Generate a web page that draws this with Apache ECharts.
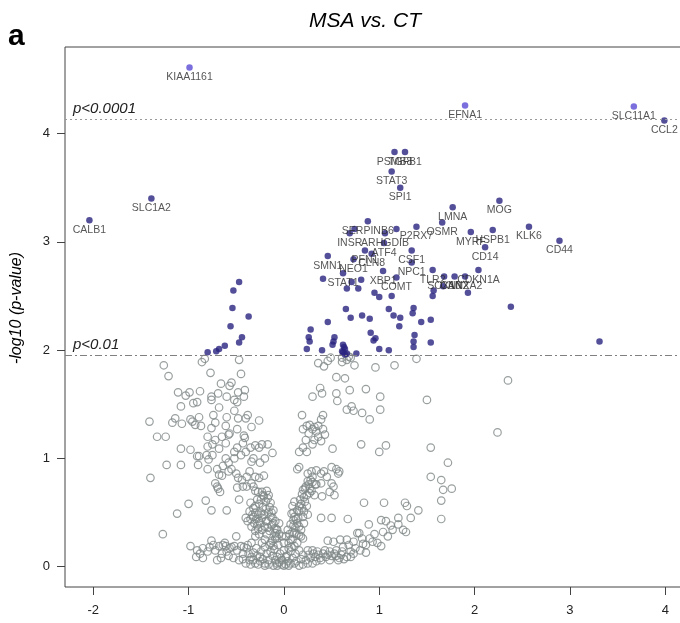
<!DOCTYPE html>
<html>
<head>
<meta charset="utf-8">
<title>MSA vs. CT</title>
<script src="https://cdn.jsdelivr.net/npm/echarts@6/dist/echarts.min.js"></script>
<style>
html, body { margin: 0; padding: 0; background: #fff; }
#chart { width: 680px; height: 623px; }
</style>
</head>
<body>
<div id="chart"></div>
<script>
// axis ticks
const xTicks = [-2, -1, 0, 1, 2, 3, 4]
const yTicks = [0, 1, 2, 3, 4]
// significance cut-offs (-log10 p)
const cutStrict = 4.13
const cutLoose = 1.95

// labelled genes
const geneNames = ['KIAA1161', 'EFNA1', 'SLC11A1', 'CCL2', 'PSMB8', 'TGFB1', 'STAT3', 'SPI1', 'SLC1A2', 'MOG',
  'LMNA', 'CALB1', 'SERPINB6', 'OSMR', 'KLK6', 'P2RX7', 'HSPB1', 'MYRF', 'INSR', 'ARHGDIB',
  'CSF1', 'ATF4', 'CD14', 'PFN1', 'CD44', 'CLN8', 'SMN1', 'NEO1', 'NPC1', 'XBP1',
  'TLR2', 'CDKN1A', 'STAT1', 'COMT', 'SOX10', 'CNN2', 'ANXA2']
const geneFC = [-0.99, 1.90, 3.67, 3.99, 1.16, 1.27, 1.13, 1.22, -1.39, 2.26,
  1.77, -2.04, 0.88, 1.66, 2.57, 1.39, 2.19, 1.96, 0.69, 1.06,
  1.34, 1.05, 2.11, 0.85, 2.89, 0.92, 0.46, 0.73, 1.34, 1.04,
  1.56, 2.04, 0.62, 1.18, 1.68, 1.79, 1.90]
const geneLogP = [4.61, 4.26, 4.25, 4.12, 3.83, 3.83, 3.65, 3.50, 3.40, 3.38,
  3.32, 3.20, 3.19, 3.18, 3.14, 3.14, 3.11, 3.09, 3.08, 3.08,
  2.92, 2.99, 2.95, 2.92, 3.01, 2.89, 2.87, 2.84, 2.81, 2.73,
  2.74, 2.74, 2.71, 2.67, 2.68, 2.68, 2.68]
const brightGenes = ['KIAA1161', 'EFNA1', 'SLC11A1']

// significant, unlabelled [log2FC, -log10 p]
const sigPoints = [
  [0.74, 3.12], [1.18, 3.12], [0.41, 2.66], [0.71, 2.63], [0.66, 2.57], [0.78, 2.57], [0.81, 2.65],
  [0.95, 2.53], [1.00, 2.49], [1.13, 2.50], [1.56, 2.50], [1.57, 2.55], [1.67, 2.59], [1.93, 2.53],
  [2.38, 2.40], [0.65, 2.38], [0.70, 2.30], [0.82, 2.32], [0.90, 2.29], [1.10, 2.38], [1.15, 2.32],
  [1.22, 2.30], [1.36, 2.39], [1.35, 2.34], [1.21, 2.22], [1.54, 2.28], [0.28, 2.19], [0.26, 2.12],
  [0.27, 2.08], [0.53, 2.12], [0.52, 2.08], [0.51, 2.05], [0.62, 2.05], [0.64, 2.01], [0.91, 2.16],
  [0.96, 2.11], [0.94, 2.09], [1.10, 2.00], [1.37, 2.14], [1.36, 2.08], [1.36, 2.03], [1.54, 2.07],
  [0.24, 2.01], [0.40, 2.00], [0.62, 1.98], [0.76, 1.97], [1.00, 2.01], [0.66, 1.97], [0.46, 2.26],
  [1.44, 2.26], [0.63, 2.03], [0.61, 1.99], [0.64, 1.96],
  [-0.47, 2.63], [-0.53, 2.55], [-0.54, 2.39], [-0.37, 2.31], [-0.56, 2.22], [-0.44, 2.12],
  [-0.47, 2.07], [-0.62, 2.04], [-0.68, 2.01], [-0.71, 1.99], [-0.80, 1.98],
  [3.31, 2.08]
]

// not significant [log2FC, -log10 p]
const nsPoints = [
  [-1.26, 1.86], [-0.86, 1.89], [-0.83, 1.92], [-0.47, 1.91], [0.36, 1.88], [0.42, 1.85], [0.46, 1.90],
  [0.49, 1.93], [0.61, 1.89], [0.66, 1.91], [0.70, 1.93], [0.74, 1.86], [0.68, 1.94], [0.61, 1.93],
  [0.96, 1.84], [1.16, 1.86], [1.39, 1.92], [-1.21, 1.76], [-0.77, 1.79], [-0.45, 1.78], [0.55, 1.75],
  [0.64, 1.74], [2.35, 1.72], [-1.11, 1.61], [-0.99, 1.61], [-0.88, 1.62], [-0.66, 1.69], [-0.57, 1.67],
  [-0.55, 1.70], [-0.48, 1.61], [-0.41, 1.63], [0.38, 1.65], [0.40, 1.60], [0.30, 1.57], [0.55, 1.60],
  [0.69, 1.63], [0.86, 1.64], [0.56, 1.53], [1.01, 1.57], [1.50, 1.54], [-1.03, 1.58], [-1.08, 1.48],
  [-0.95, 1.51], [-0.91, 1.52], [-0.76, 1.57], [-0.76, 1.54], [-0.69, 1.60], [-0.60, 1.57], [-0.52, 1.54],
  [-0.42, 1.57], [-0.49, 1.52], [-0.68, 1.47], [-0.52, 1.44], [-0.38, 1.40], [-0.26, 1.35], [-0.40, 1.37],
  [-0.48, 1.37], [-0.60, 1.38], [-0.74, 1.40], [-0.89, 1.38], [-0.93, 1.31], [-0.98, 1.36], [-1.07, 1.32],
  [-1.17, 1.33], [-1.14, 1.37], [-1.41, 1.34], [-1.33, 1.20], [-1.24, 1.20], [-0.96, 1.34], [-0.87, 1.30],
  [-0.76, 1.28], [-0.72, 1.33], [-0.61, 1.30], [-0.57, 1.23], [-0.49, 1.27], [-0.42, 1.21], [-0.34, 1.29],
  [0.19, 1.40], [0.41, 1.40], [0.39, 1.36], [0.71, 1.48], [0.73, 1.44], [0.82, 1.42], [0.90, 1.36],
  [1.01, 1.45], [0.66, 1.45], [0.20, 1.27], [0.24, 1.30], [0.27, 1.31], [0.30, 1.27], [0.32, 1.29],
  [0.36, 1.30], [0.41, 1.27], [0.43, 1.22], [0.34, 1.25], [0.26, 1.23], [0.23, 1.17], [0.32, 1.17],
  [0.36, 1.20], [0.39, 1.16], [0.30, 1.13], [0.20, 1.10], [0.16, 1.06], [0.24, 1.06], [0.51, 1.09],
  [0.81, 1.13], [1.00, 1.06], [1.07, 1.12], [1.54, 1.10], [2.24, 1.24],
  [-1.08, 1.09], [-0.98, 1.08], [-0.91, 1.02], [-0.89, 1.02], [-0.80, 1.11], [-0.75, 1.13], [-0.80, 1.20],
  [-0.72, 1.17], [-0.65, 1.20], [-0.58, 1.22], [-0.61, 1.14], [-0.68, 1.09], [-0.75, 1.03], [-0.81, 1.03],
  [-0.79, 0.99], [-0.61, 1.00], [-0.52, 1.06], [-0.49, 1.10], [-0.43, 1.14], [-0.41, 1.19], [-0.35, 1.10],
  [-0.30, 1.12], [-0.26, 1.10], [-0.23, 1.13], [-0.17, 1.13], [-0.12, 1.05], [-0.20, 1.00], [-0.25, 0.96],
  [-0.32, 1.00], [-0.34, 0.97], [-0.40, 1.06], [-0.45, 1.03], [-0.52, 1.00], [-0.58, 0.96], [-0.64, 0.93],
  [-0.70, 0.90], [-0.80, 0.90], [-0.90, 0.94], [-1.08, 0.94], [-1.23, 0.94], [-1.40, 0.82],
  [-0.68, 0.85], [-0.65, 0.84], [-0.58, 0.88], [-0.55, 0.90], [-0.50, 0.86], [-0.48, 0.82], [-0.44, 0.80],
  [-0.39, 0.83], [-0.36, 0.88], [-0.34, 0.77], [-0.30, 0.83], [-0.26, 0.82], [-0.21, 0.84], [-0.32, 0.74],
  [-0.39, 0.74], [-0.43, 0.74], [-0.49, 0.73], [-0.72, 0.77], [-0.70, 0.74], [-0.69, 0.72], [-0.67, 0.69],
  [0.14, 0.90], [0.16, 0.92], [0.25, 0.86], [0.29, 0.88], [0.34, 0.89], [0.39, 0.86], [0.42, 0.88],
  [0.45, 0.83], [0.57, 0.86], [0.50, 0.92], [0.55, 0.90], [0.58, 0.88], [0.30, 0.83], [0.25, 0.79],
  [0.23, 0.74], [0.20, 0.71], [0.19, 0.67], [0.27, 0.68], [0.32, 0.66], [0.34, 0.76], [0.39, 0.77],
  [0.50, 0.77], [0.52, 0.74], [0.48, 0.69], [0.40, 0.65], [0.53, 0.66], [0.33, 0.76],
  [1.72, 0.96], [1.54, 0.83], [1.65, 0.80], [1.67, 0.71], [1.76, 0.72],
  [-1.00, 0.58], [-1.12, 0.49], [-1.27, 0.30], [-0.82, 0.61], [-0.76, 0.52], [-0.60, 0.52], [-0.47, 0.62],
  [-0.35, 0.59], [-0.32, 0.54], [-0.30, 0.50], [-0.36, 0.51], [-0.40, 0.45], [-0.38, 0.42], [-0.34, 0.37],
  [-0.32, 0.46], [-0.27, 0.48], [-0.25, 0.40], [-0.23, 0.45], [-0.20, 0.37], [-0.21, 0.65], [-0.17, 0.63],
  [-0.14, 0.59], [-0.11, 0.52], [-0.14, 0.46], [-0.17, 0.42], [-0.11, 0.40], [-0.08, 0.35], [-0.16, 0.66],
  [-0.23, 0.69], [-0.18, 0.70], [-0.07, 0.34], [-0.05, 0.40], [-0.02, 0.28], [-0.09, 0.31], [0.00, 0.22],
  [0.02, 0.28], [0.04, 0.34], [0.07, 0.39], [0.10, 0.43], [0.11, 0.46], [0.14, 0.40], [0.16, 0.37],
  [0.18, 0.34], [0.20, 0.46], [0.16, 0.51], [0.19, 0.54], [0.21, 0.51], [0.24, 0.56], [0.16, 0.56],
  [0.14, 0.52], [0.11, 0.60], [0.09, 0.56], [0.08, 0.49],
  [0.39, 0.45], [0.50, 0.45], [0.67, 0.44], [0.84, 0.59], [1.05, 0.59], [0.89, 0.39], [1.02, 0.43],
  [1.07, 0.42], [1.20, 0.45], [1.27, 0.59], [1.29, 0.56], [1.33, 0.45], [1.41, 0.52], [1.65, 0.61],
  [1.65, 0.44], [1.25, 0.34], [1.28, 0.32], [1.20, 0.39], [1.14, 0.34], [1.09, 0.28], [0.98, 0.22],
  [1.02, 0.19], [0.93, 0.23], [0.83, 0.21], [0.82, 0.26], [0.79, 0.31], [0.73, 0.23], [0.66, 0.25],
  [0.59, 0.25], [0.52, 0.23], [0.46, 0.24], [0.43, 0.15], [0.48, 0.14], [0.55, 0.15], [0.61, 0.14],
  [0.66, 0.09], [0.57, 0.06], [0.48, 0.06], [0.39, 0.06], [0.36, 0.11], [0.73, 0.12], [0.80, 0.15],
  [0.86, 0.13], [0.77, 0.31],
  [-0.98, 0.19], [-0.92, 0.09], [-0.91, 0.15], [-0.76, 0.24], [-0.74, 0.20], [-0.70, 0.06], [-0.68, 0.19],
  [-0.61, 0.19], [-0.66, 0.08], [-0.57, 0.17], [-0.52, 0.19], [-0.47, 0.06], [-0.45, 0.19], [-0.50, 0.28],
  [-0.39, 0.17], [-0.34, 0.09], [-0.32, 0.06], [-0.30, 0.03], [-0.25, 0.05], [-0.20, 0.03], [-0.16, 0.06],
  [-0.25, 0.09], [-0.18, 0.12], [-0.14, 0.14], [-0.11, 0.19], [-0.07, 0.03], [-0.02, 0.02], [0.02, 0.02],
  [0.07, 0.03], [0.11, 0.03], [0.16, 0.01], [0.20, 0.02], [0.25, 0.03], [0.30, 0.03], [0.34, 0.05],
  [-0.02, 0.06], [-0.07, 0.09], [0.02, 0.09], [0.07, 0.14], [0.11, 0.19], [0.00, 0.15], [0.05, 0.22],
  [0.09, 0.25], [0.11, 0.31], [0.16, 0.29], [0.20, 0.26], [0.25, 0.15], [0.30, 0.15], [-0.09, 0.26],
  [-0.14, 0.22], [-0.20, 0.25], [-0.23, 0.34], [-0.26, 0.30], [-0.30, 0.28], [-0.34, 0.22], [-0.43, 0.12],
  [-0.36, 0.06], [-0.27, 0.02], [-0.20, 0.01], [-0.16, 0.02], [-0.11, 0.01], [-0.07, 0.01], [0.00, 0.01],
  [0.05, 0.01],
  [-0.12, 0.45], [-0.10, 0.35], [-0.08, 0.28], [-0.06, 0.20], [-0.04, 0.12], [-0.03, 0.08], [-0.13, 0.50],
  [-0.15, 0.55], [-0.19, 0.60], [-0.22, 0.55], [-0.24, 0.50], [-0.26, 0.42], [-0.28, 0.38], [-0.30, 0.33],
  [-0.18, 0.30], [-0.15, 0.33], [-0.12, 0.24], [-0.10, 0.16], [0.03, 0.10], [0.05, 0.17], [0.07, 0.25],
  [0.09, 0.32], [0.12, 0.36], [0.13, 0.44], [0.17, 0.62], [0.21, 0.64], [0.22, 0.72], [0.26, 0.76],
  [0.28, 0.80], [0.10, 0.50], [0.06, 0.30], [0.04, 0.05], [0.09, 0.08], [0.13, 0.05], [0.18, 0.07],
  [0.23, 0.06], [0.28, 0.08], [0.33, 0.09], [0.38, 0.08], [0.44, 0.09], [0.50, 0.10], [0.55, 0.10],
  [0.60, 0.11], [0.62, 0.18], [0.68, 0.20], [0.70, 0.14], [-0.38, 0.20], [-0.42, 0.18], [-0.55, 0.18],
  [-0.60, 0.14], [-0.64, 0.20], [-0.72, 0.15], [-0.80, 0.14], [-0.85, 0.17], [-0.88, 0.12], [-0.24, 0.14],
  [-0.28, 0.10], [-0.22, 0.07],
  [-0.28, 0.62], [-0.26, 0.58], [-0.24, 0.62], [-0.30, 0.56], [-0.33, 0.48], [-0.29, 0.44], [-0.27, 0.35],
  [-0.31, 0.40], [-0.35, 0.44], [-0.21, 0.48], [-0.19, 0.42], [-0.16, 0.50], [-0.13, 0.38], [-0.09, 0.42],
  [-0.07, 0.26], [-0.05, 0.30], [-0.17, 0.36], [-0.19, 0.53], [-0.22, 0.66], [-0.27, 0.69], [-0.30, 0.70],
  [-0.15, 0.20], [-0.12, 0.10], [-0.09, 0.06], [-0.05, 0.04], [-0.20, 0.18], [-0.23, 0.22], [-0.29, 0.17],
  [-0.32, 0.13], [-0.37, 0.12],
  [0.10, 0.38], [0.13, 0.30], [0.15, 0.45], [0.18, 0.58], [0.22, 0.60], [0.24, 0.66], [0.27, 0.72],
  [0.30, 0.78], [0.29, 0.70], [0.25, 0.48], [0.21, 0.40], [0.18, 0.28], [0.14, 0.22], [0.08, 0.18],
  [0.12, 0.12], [0.16, 0.15], [0.20, 0.11], [0.26, 0.11], [0.31, 0.12], [0.35, 0.14], [0.41, 0.12],
  [0.46, 0.11], [0.53, 0.12], [0.58, 0.08], [0.63, 0.07], [0.70, 0.09], [0.75, 0.17], [0.86, 0.20],
  [0.90, 0.26], [0.95, 0.30], [1.04, 0.32], [1.12, 0.38],
  [-0.62, 0.22], [-0.58, 0.10], [-0.53, 0.08], [-0.49, 0.15], [-0.43, 0.07], [-0.40, 0.03], [-0.35, 0.02],
  [-0.85, 0.08], [-0.78, 0.18], [-0.65, 0.12]
]

const font = '"Liberation Sans", Arial, sans-serif'
const navy = '#29237f'
const violet = '#5a4bd6'
const grey = '#7f8787'

let myChart = echarts.init(document.getElementById('chart'), null, { renderer: 'canvas' })

let geneData = geneNames.map((name, i) => {
  return { name: name, value: [geneFC[i], geneLogP[i]] }
})

let options = {
  animation: false,
  backgroundColor: '#fff',
  grid: {
    left: 65,
    right: -12,
    top: 47,
    bottom: 36,
    show: true,
    borderColor: '#444',
    borderWidth: 1,
    containLabel: false,
    outerBoundsMode: 'none'
  },
  xAxis: {
    type: 'value',
    min: -2.296,
    max: 4.28,
    splitLine: { show: false },
    axisLine: { show: false, onZero: false },
    axisTick: {
      show: true,
      length: 8,
      customValues: xTicks,
      lineStyle: { color: '#444' }
    },
    axisLabel: {
      customValues: xTicks,
      margin: 17,
      fontSize: 13,
      color: '#222',
      fontFamily: font
    }
  },
  yAxis: {
    type: 'value',
    min: -0.188,
    max: 4.8,
    splitLine: { show: false },
    axisLine: { show: false, onZero: false },
    axisTick: {
      show: true,
      length: 8,
      customValues: yTicks,
      lineStyle: { color: '#444' }
    },
    axisLabel: {
      customValues: yTicks,
      margin: 15,
      fontSize: 13,
      color: '#222',
      fontFamily: font
    }
  },
  graphic: [
    {
      type: 'text', left: 8, top: 22,
      style: { text: 'a', font: 'bold 30px ' + font, fill: '#000' }
    },
    {
      type: 'text', x: 365, y: 21,
      style: { text: 'MSA vs. CT', font: 'italic 21px ' + font, fill: '#000', textAlign: 'center', textVerticalAlign: 'middle' }
    },
    {
      type: 'text', x: 17, y: 308, rotation: Math.PI / 2,
      style: { text: '-log10 (p-value)', font: 'italic 16px ' + font, fill: '#000', textAlign: 'center', textVerticalAlign: 'middle' }
    }
  ],
  series: [
    {
      type: 'scatter',
      data: nsPoints,
      symbol: 'circle',
      symbolSize: 7.5,
      itemStyle: { color: 'rgba(0,0,0,0)', borderColor: grey, borderWidth: 1.2 },
      markLine: {
        silent: true,
        symbol: ['none', 'none'],
        label: {
          position: 'insideStartTop',
          fontStyle: 'italic',
          fontSize: 15,
          color: '#222',
          fontFamily: font,
          distance: [8, 3]
        },
        data: [
          {
            yAxis: cutStrict,
            lineStyle: { type: [2, 3], color: '#9a9a9a', width: 1 },
            label: { formatter: 'p<0.0001' }
          },
          {
            yAxis: cutLoose,
            lineStyle: { type: [7, 3, 2, 3], color: '#808080', width: 1 },
            label: { formatter: 'p<0.01' }
          }
        ]
      },
      z: 2
    },
    {
      type: 'scatter',
      data: sigPoints,
      symbolSize: 6.5,
      itemStyle: { color: navy },
      z: 3
    },
    {
      type: 'scatter',
      data: geneData,
      symbolSize: 6.5,
      itemStyle: {
        color: (p) => brightGenes.indexOf(p.name) >= 0 ? violet : navy
      },
      label: {
        show: true,
        formatter: '{b}',
        position: 'bottom',
        distance: 1,
        fontSize: 10.5,
        color: '#2a2a2a',
        fontFamily: font
      },
      labelLayout: { hideOverlap: false },
      z: 4
    }
  ]
}
myChart.setOption(options)
</script>
</body>
</html>
